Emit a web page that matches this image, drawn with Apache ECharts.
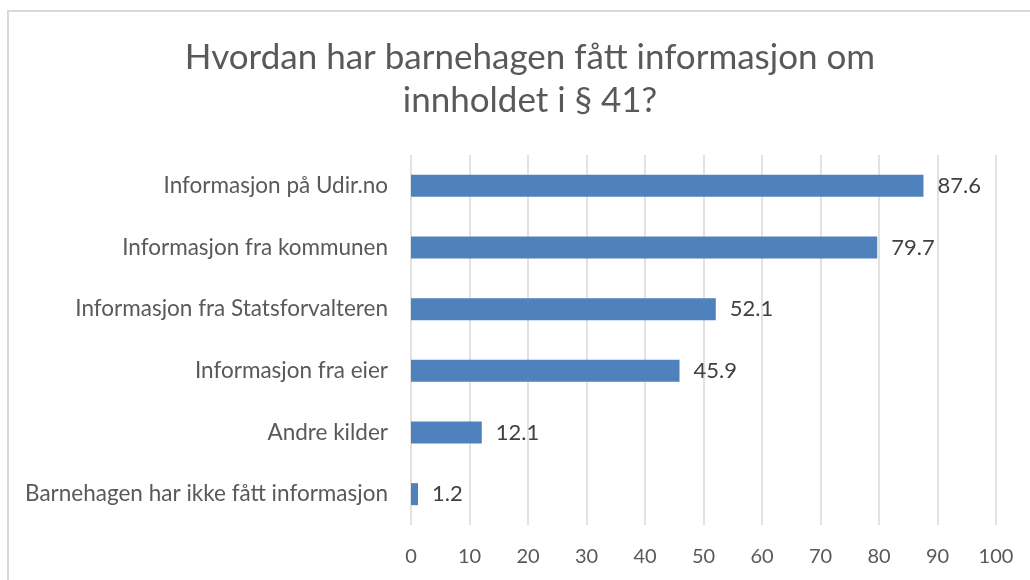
<!DOCTYPE html>
<html>
<head>
<meta charset="utf-8">
<script src="https://cdn.jsdelivr.net/npm/echarts@6/dist/echarts.min.js"></script>
<style>
  html, body { margin: 0; padding: 0; background: #fff; }
  #chart { width: 1030px; height: 580px; }
</style>
</head>
<body>
<div id="chart"></div>
<script>
  var titleText = 'Hvordan har barnehagen fått informasjon om\ninnholdet i § 41?';
  var categories = [
    'Informasjon på Udir.no',
    'Informasjon fra kommunen',
    'Informasjon fra Statsforvalteren',
    'Informasjon fra eier',
    'Andre kilder',
    'Barnehagen har ikke fått informasjon'
  ];
  var values = [87.6, 79.7, 52.1, 45.9, 12.1, 1.2];
  var fontFam = 'Lato, "Open Sans", sans-serif';

  var chart = echarts.init(document.getElementById('chart'));
  var option = {
    backgroundColor: '#fff',
    animation: false,
    title: {
      text: titleText,
      left: 525,
      top: 31,
      textAlign: 'center',
      textStyle: {
        color: '#595959',
        fontFamily: fontFam,
        fontWeight: 'normal',
        fontSize: 35,
        lineHeight: 43
      }
    },
    // border round the chart area, like the source
    graphic: [{
      type: 'rect',
      shape: { x: 8, y: 11, width: 1100, height: 700 },
      style: { fill: 'none', stroke: '#d9d9d9', lineWidth: 2 },
      silent: true
    }],
    grid: { left: 411, right: 34, top: 155, bottom: 55 },
    xAxis: {
      type: 'value',
      min: 0,
      max: 100,
      interval: 10,
      axisLine: { show: false },
      axisTick: { show: false },
      splitLine: { lineStyle: { color: '#d9d9d9', width: 1.5 } },
      axisLabel: {
        color: '#595959',
        fontFamily: fontFam,
        fontSize: 20,
        margin: 22
      }
    },
    yAxis: {
      type: 'category',
      data: categories,
      inverse: true,
      axisLine: { show: false },
      axisTick: { show: false },
      axisLabel: {
        color: '#595959',
        fontFamily: fontFam,
        fontSize: 22.5,
        margin: 23
      }
    },
    series: [{
      type: 'bar',
      data: values,
      barWidth: 22,
      itemStyle: { color: '#4f81bd' },
      label: {
        show: true,
        position: 'right',
        distance: 14,
        color: '#404040',
        fontFamily: fontFam,
        fontSize: 22
      }
    }]
  };
  chart.setOption(option);
</script>
</body>
</html>
